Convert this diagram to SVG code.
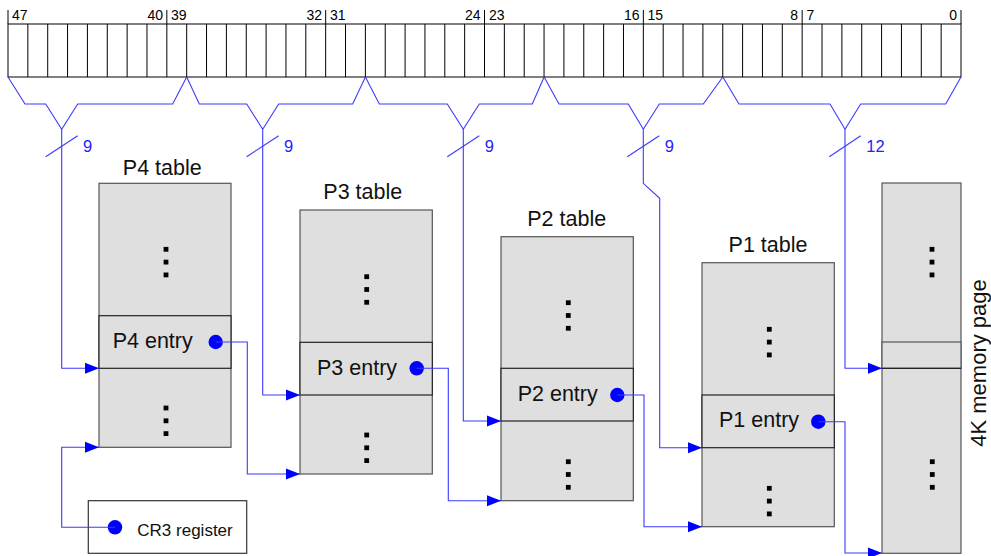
<svg xmlns="http://www.w3.org/2000/svg" xmlns:xlink="http://www.w3.org/1999/xlink" width="991" height="556" viewBox="0 0 991 556">
<style>
  .bitlbl { font-family: "Liberation Sans", Arial, sans-serif; font-size: 14px; fill: #000; }
  .cell { stroke: #000; stroke-width: 1; fill: none; }
  .tbl { fill: #dfdfdf; stroke: #555; stroke-width: 1.2; }
  .row { fill: #dfdfdf; stroke: #222; stroke-width: 1.2; }
  .title { font-family: "Liberation Sans", Arial, sans-serif; font-size: 21.5px; fill: #111; }
  .cr3 { font-family: "Liberation Sans", Arial, sans-serif; font-size: 17px; fill: #111; }
  .wire { fill: none; stroke: #3a3aff; stroke-width: 1.1; }
  .arr { fill: none; stroke: #3a3aff; stroke-width: 1.1; marker-end: url(#ah); }
  .num { font-family: "Liberation Sans", Arial, sans-serif; font-size: 16.5px; fill: #2222ff; }
  .pt { fill: #0000ff; }
</style>
<defs>
  <marker id="ah" markerUnits="userSpaceOnUse" markerWidth="15" markerHeight="12" refX="14" refY="5.5" orient="auto" overflow="visible">
    <path d="M0,0 L14,5.5 L0,11 z" fill="#0000ff"/>
  </marker>
  <g id="dots">
    <rect x="-2.4" y="-2.4" width="4.8" height="4.8" fill="#000"/>
    <rect x="-2.4" y="10.4" width="4.8" height="4.8" fill="#000"/>
    <rect x="-2.4" y="23.2" width="4.8" height="4.8" fill="#000"/>
  </g>
</defs>
<rect width="991" height="556" fill="#fff"/>

<g id="register">
  <rect x="8" y="24" width="953" height="53" fill="#fff" stroke="#000" stroke-width="1"/>
  <path class="cell" d="M27.85,24V77M47.71,24V77M67.56,24V77M87.42,24V77M107.27,24V77M127.13,24V77M146.98,24V77M166.83,24V77M186.69,24V77M206.54,24V77M226.40,24V77M246.25,24V77M266.10,24V77M285.96,24V77M305.81,24V77M325.67,24V77M345.52,24V77M365.38,24V77M385.23,24V77M405.08,24V77M424.94,24V77M444.79,24V77M464.65,24V77M484.50,24V77M504.35,24V77M524.21,24V77M544.06,24V77M563.92,24V77M583.77,24V77M603.63,24V77M623.48,24V77M643.33,24V77M663.19,24V77M683.04,24V77M702.90,24V77M722.75,24V77M742.60,24V77M762.46,24V77M782.31,24V77M802.17,24V77M822.02,24V77M841.88,24V77M861.73,24V77M881.58,24V77M901.44,24V77M921.29,24V77M941.15,24V77"/>
  <path class="cell" d="M8,10V24M166.83,10V24M325.67,10V24M484.50,10V24M643.33,10V24M802.17,10V24M961,10V24"/>
  <text class="bitlbl" x="12" y="19.5">47</text>
  <text class="bitlbl" x="163" y="19.5" text-anchor="end">40</text>
  <text class="bitlbl" x="171" y="19.5">39</text>
  <text class="bitlbl" x="322" y="19.5" text-anchor="end">32</text>
  <text class="bitlbl" x="330" y="19.5">31</text>
  <text class="bitlbl" x="480.5" y="19.5" text-anchor="end">24</text>
  <text class="bitlbl" x="489" y="19.5">23</text>
  <text class="bitlbl" x="639.5" y="19.5" text-anchor="end">16</text>
  <text class="bitlbl" x="647.5" y="19.5">15</text>
  <text class="bitlbl" x="798" y="19.5" text-anchor="end">8</text>
  <text class="bitlbl" x="806.5" y="19.5">7</text>
  <text class="bitlbl" x="957" y="19.5" text-anchor="end">0</text>
</g>

<g id="p4-table">
  <text class="title" x="162.3" y="175" text-anchor="middle">P4 table</text>
  <rect class="tbl" x="99" y="183.3" width="132" height="264"/>
  <rect class="row" x="99" y="315.7" width="132" height="52.6"/>
  <use href="#dots" x="166" y="249.3"/>
  <use href="#dots" x="166" y="408"/>
  <text class="title" x="112.7" y="348.3">P4 entry</text>
  <circle class="pt" cx="215.7" cy="342" r="7.2"/>
</g>

<g id="p3-table">
  <text class="title" x="362.8" y="199.3" text-anchor="middle">P3 table</text>
  <rect class="tbl" x="300" y="210" width="132.3" height="264"/>
  <rect class="row" x="300" y="342.3" width="132.3" height="52.7"/>
  <use href="#dots" x="366.7" y="276.7"/>
  <use href="#dots" x="366.7" y="435"/>
  <text class="title" x="317" y="374.7">P3 entry</text>
  <circle class="pt" cx="416.7" cy="368.3" r="7.2"/>
</g>

<g id="p2-table">
  <text class="title" x="566.7" y="225.7" text-anchor="middle">P2 table</text>
  <rect class="tbl" x="501" y="236.7" width="132.3" height="264"/>
  <rect class="row" x="501" y="368.3" width="132.3" height="52.7"/>
  <use href="#dots" x="568.3" y="302.7"/>
  <use href="#dots" x="568.3" y="461.7"/>
  <text class="title" x="517.7" y="401">P2 entry</text>
  <circle class="pt" cx="617.3" cy="395" r="7.2"/>
</g>

<g id="p1-table">
  <text class="title" x="768" y="251.7" text-anchor="middle">P1 table</text>
  <rect class="tbl" x="702" y="262.7" width="132.3" height="264"/>
  <rect class="row" x="702" y="395" width="132.3" height="52.7"/>
  <use href="#dots" x="769.3" y="329.3"/>
  <use href="#dots" x="769.3" y="488.3"/>
  <text class="title" x="719" y="426.7">P1 entry</text>
  <circle class="pt" cx="818.3" cy="421.7" r="7.2"/>
</g>

<g id="memory-page">
  <rect class="tbl" x="882" y="183" width="79" height="370.3"/>
  <rect class="row" x="882" y="342" width="79" height="26.3" style="stroke:#555"/>
  <line x1="882" y1="368.3" x2="961" y2="368.3" stroke="#222" stroke-width="1.2"/>
  <use href="#dots" x="932" y="249.3"/>
  <use href="#dots" x="932.3" y="461.7"/>
  <text class="title" transform="translate(985.5,363) rotate(-90)" text-anchor="middle" style="font-size:22px">4K memory page</text>
</g>

<g id="cr3-register">
  <rect x="88.3" y="500.7" width="158.4" height="52.6" fill="#fff" stroke="#333" stroke-width="1.2"/>
  <circle class="pt" cx="115" cy="527.3" r="7.2"/>
  <text class="cr3" x="137.3" y="536">CR3 register</text>
</g>

<g id="connectors">
  <polyline class="wire" points="8,77 25,104 45.7,104 61.7,129.3 77.7,104 172.7,104 186.7,77"/>
  <polyline class="wire" points="186.7,77 199.3,104 246.7,104 262.7,129.3 278.7,104 352.7,104 365.4,77"/>
  <polyline class="wire" points="365.4,77 379.3,104 447.3,104 463.3,129.3 479.3,104 532.3,104 544.1,77"/>
  <polyline class="wire" points="544.1,77 559,104 628.3,104 643.3,129.3 659.3,104 703.3,104 722.8,77"/>
  <polyline class="wire" points="722.8,77 739,104 830,104 845,129.3 860.7,104 945.7,104 961,77"/>

  <line class="wire" x1="45.7" y1="156.7" x2="77.7" y2="135.7"/>
  <line class="wire" x1="246.7" y1="156.7" x2="278.7" y2="135.7"/>
  <line class="wire" x1="447.3" y1="156.7" x2="479.3" y2="135.7"/>
  <line class="wire" x1="627.3" y1="156.7" x2="659.3" y2="135.7"/>
  <line class="wire" x1="829.3" y1="156.7" x2="860.7" y2="135.7"/>
  <text class="num" x="83" y="152">9</text>
  <text class="num" x="284" y="152">9</text>
  <text class="num" x="484.7" y="152">9</text>
  <text class="num" x="664.7" y="152">9</text>
  <text class="num" x="866.3" y="152">12</text>

  <polyline class="arr" points="61.7,129.3 61.7,368.3 99,368.3"/>
  <polyline class="arr" points="262.7,129.3 262.7,395 300,395"/>
  <polyline class="arr" points="463.3,129.3 463.3,421 501,421"/>
  <polyline class="arr" points="643.3,129.3 643.3,183.3 659.7,198.3 659.7,447.7 702,447.7"/>
  <polyline class="arr" points="845,129.3 845,368.3 882,368.3"/>

  <polyline class="arr" points="215.7,342 247.3,342 247.3,474 300,474"/>
  <polyline class="arr" points="416.7,368.3 448.3,368.3 448.3,500.7 501,500.7"/>
  <polyline class="arr" points="617.3,395 644,395 644,526.7 702,526.7"/>
  <polyline class="arr" points="818.3,421.7 845,421.7 845,553 882,553"/>
  <polyline class="arr" points="115,527.3 61.7,527.3 61.7,447.3 99,447.3"/>
</g>
</svg>
